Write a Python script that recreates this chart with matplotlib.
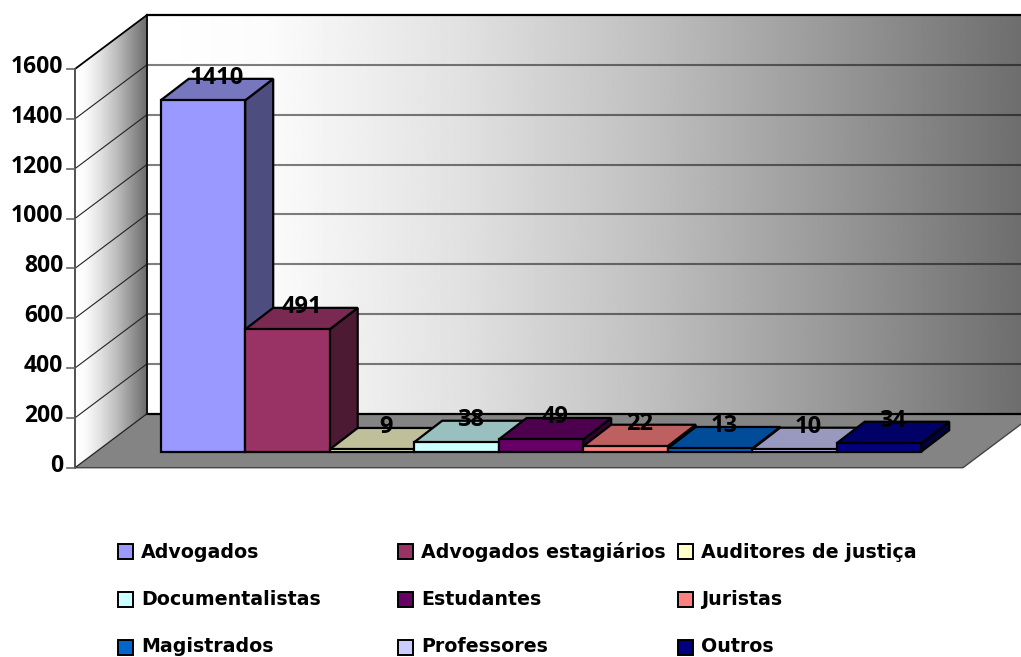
import numpy as np
import matplotlib
matplotlib.use("Agg")
import matplotlib.pyplot as plt
from matplotlib.patches import Polygon, Rectangle
from matplotlib.transforms import Affine2D

categories = ["Advogados", "Advogados estagiários", "Auditores de justiça",
              "Documentalistas", "Estudantes", "Juristas",
              "Magistrados", "Professores", "Outros"]
values = [1410, 491, 9, 38, 49, 22, 13, 10, 34]
front_colors = ["#9999FF", "#993366", "#FFFFCC", "#CCFFFF", "#660066",
                "#FF8080", "#0066CC", "#CCCCFF", "#000080"]
top_colors = ["#7777BF", "#7A2952", "#BFBF99", "#99BFBF", "#4D004D",
              "#BF6060", "#004C99", "#9999BF", "#000066"]
side_colors = ["#4D4D80", "#4D1A33", "#808066", "#668080", "#330033",
               "#804040", "#003366", "#666680", "#000040"]
y_ticks = [0, 200, 400, 600, 800, 1000, 1200, 1400, 1600]

W, H = 1021, 657
PX_CAT, PX_VAL = 84.5, 0.2492
BAR_LEFT_PX, BASE_PX = 160.7, 451.7
FONT = "Open Sans"

fig = plt.figure(figsize=(W / 100, H / 100), dpi=100, facecolor="white")
ax = fig.add_axes([0, 0, 1, 1])
ax.axis("off")
xlim = (-BAR_LEFT_PX / PX_CAT, (W - BAR_LEFT_PX) / PX_CAT)
ylim = ((BASE_PX - H) / PX_VAL, BASE_PX / PX_VAL)

# plane geometry, in category / value units
x0, y0 = (75 - BAR_LEFT_PX) / PX_CAT, -16 / PX_VAL
x1 = (963 - BAR_LEFT_PX) / PX_CAT
wall_dx, wall_dy = 72 / PX_CAT, 54 / PX_VAL
bar_dx, bar_dy = 28 / PX_CAT, 21.5 / PX_VAL
vmax = y_ticks[-1]
bx0, by0 = x0 + wall_dx, y0 + wall_dy
bx1 = x1 + wall_dx

GRAD_T = [0.0, 0.138, 0.35, 0.56, 0.775, 0.985, 1.0]
GRAD_V = [1.0, 0.985, 0.885, 0.755, 0.595, 0.43, 0.42]


def gradient(poly, x_from, x_to, z):
    g = np.interp(np.linspace(0, 1, 512), GRAD_T, GRAD_V).reshape(1, -1)
    im = ax.imshow(g, cmap="gray", vmin=0, vmax=1, aspect="auto",
                   extent=(x_from, x_to, poly[:, 1].min(), poly[:, 1].max()),
                   zorder=z, interpolation="bilinear")
    patch = Polygon(poly, closed=True, transform=ax.transData, fc="none", ec="none")
    ax.add_patch(patch)
    im.set_clip_path(patch)


back = np.array([[bx0, by0], [bx1, by0], [bx1, by0 + vmax], [bx0, by0 + vmax]])
side = np.array([[x0, y0], [bx0, by0], [bx0, by0 + vmax], [x0, y0 + vmax]])
floor = np.array([[x0, y0], [x1, y0], [bx1, by0], [bx0, by0]])
gradient(back, bx0, bx1, 1)
gradient(side, x0, bx0, 1)
ax.add_patch(Polygon(floor, closed=True, fc="#848484", ec="none", zorder=2))

# gridlines
for v in y_ticks[1:-1]:
    ax.plot([bx0, bx1], [by0 + v, by0 + v], color="black", alpha=0.5, lw=1.5, zorder=3)
for v in y_ticks[1:-1]:
    ax.plot([x0, bx0], [y0 + v, by0 + v], color="#222222", lw=0.8, zorder=3)

# wall and floor outlines
ax.plot([bx0, bx1], [by0 + vmax, by0 + vmax], color="black", lw=1.6, zorder=4)
ax.plot([bx0, bx0], [by0, by0 + vmax], color="#111111", lw=1.4, zorder=4)
ax.plot([bx0, bx1], [by0, by0], color="black", lw=1.6, zorder=4)
ax.plot([x0, bx0], [y0 + vmax, by0 + vmax], color="black", lw=1.3, zorder=4)
ax.plot([x0, x0], [y0, y0 + vmax], color="#222222", lw=1.1, zorder=4)
ax.plot([x0, bx0], [y0, by0], color="#222222", lw=0.9, zorder=4)
ax.plot([x0, x1, bx1], [y0, y0, by0], color="#444444", lw=1.0, zorder=4)

# axis ticks and labels
for v in y_ticks:
    ax.plot([x0 - 8 / PX_CAT, x0], [y0 + v, y0 + v], color="#666666", lw=1.2, zorder=4)
    ax.text(x0 - 12 / PX_CAT, y0 + v + 5 / PX_VAL, str(v), ha="right", va="center_baseline",
            family=FONT, fontweight="bold", fontsize=16.5, color="black", zorder=6)

# bars
EDGE = dict(ec="black", lw=1.6, joinstyle="miter")
for i, v in enumerate(values):
    z = 5 + i * 0.01
    ax.add_patch(Polygon([[i + 1, 0], [i + 1 + bar_dx, bar_dy], [i + 1 + bar_dx, v + bar_dy], [i + 1, v]],
                         fc=side_colors[i], zorder=z, **EDGE))
    ax.add_patch(Polygon([[i, v], [i + 1, v], [i + 1 + bar_dx, v + bar_dy], [i + bar_dx, v + bar_dy]],
                         fc=top_colors[i], zorder=z, **EDGE))
    ax.add_patch(Rectangle((i, 0), 1, v, fc=front_colors[i], zorder=z, **EDGE))
for i, v in enumerate(values):
    ax.text(i + 0.5 + bar_dx / 2, v + bar_dy + 1 / PX_VAL, str(v), ha="center", va="center",
            family=FONT, fontweight="bold", fontsize=17, color="black", zorder=7)

# legend, laid out in pixels from the top left
px = Affine2D().scale(1 / W, -1 / H).translate(0, 1) + fig.transFigure
for k, name in enumerate(categories):
    col, row = k % 3, k // 3
    sx, cy = 118 + 280 * col, 551 + 48 * row
    ax.add_patch(Rectangle((sx, cy - 7.5), 15, 15, transform=px, fc=front_colors[k],
                           ec="black", lw=1.4, zorder=8))
    ax.text(sx + 23, 550 + 47.5 * row, name, transform=px, ha="left", va="center_baseline",
            family="DejaVu Sans", fontweight="bold", fontsize=13.7, color="black", zorder=8)

ax.set_xlim(*xlim)
ax.set_ylim(*ylim)
fig.savefig("out.png", dpi=100, facecolor="white")
